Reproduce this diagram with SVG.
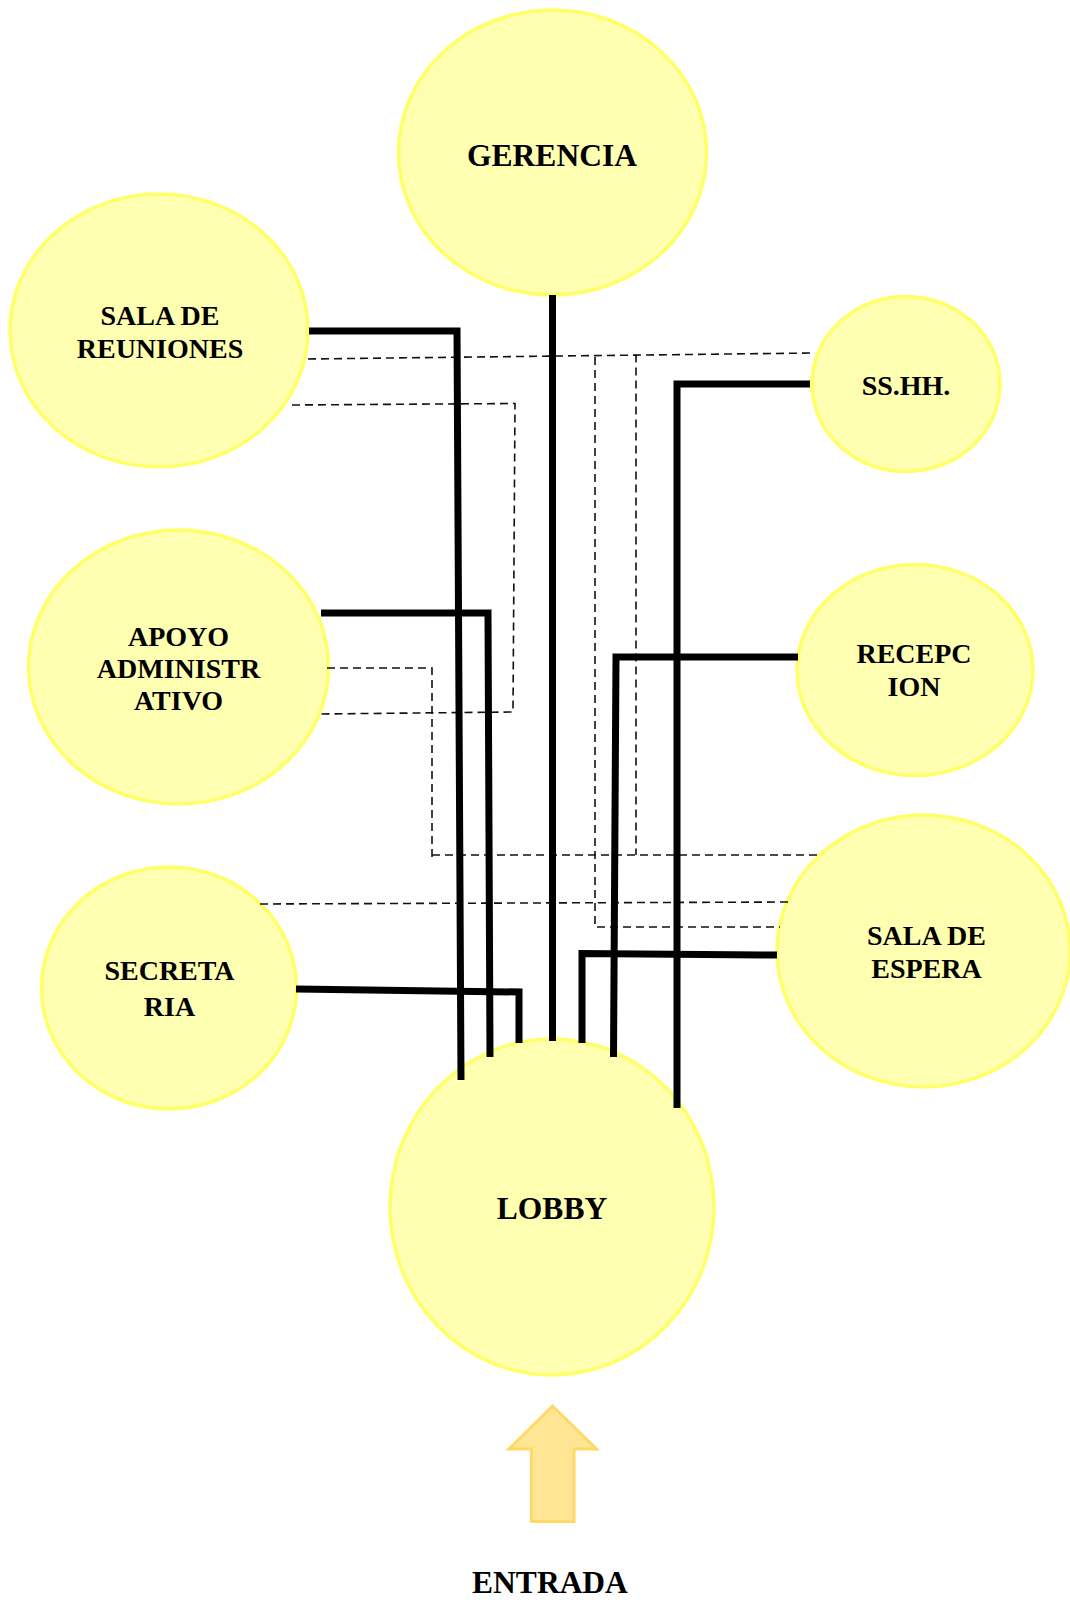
<svg xmlns="http://www.w3.org/2000/svg" width="1070" height="1600" viewBox="0 0 1070 1600">
<style>
.node{fill:#FFFFB2;stroke:#FFFF66;stroke-width:3.5}
.lbl{font-family:"Liberation Serif","Times New Roman",serif;font-weight:bold;font-size:28px;fill:#000;text-anchor:middle}
.big{font-size:31.5px}
.solid{fill:none;stroke:#000;stroke-width:7;stroke-linejoin:miter;stroke-linecap:butt}
.dash{fill:none;stroke:#111;stroke-width:1.6;stroke-dasharray:8 5}
</style>
<rect x="0" y="0" width="1070" height="1600" fill="#fff"/>
<g id="gerencia"><ellipse class="node" cx="552.5" cy="152.5" rx="154" ry="142.5"/><text class="lbl big" x="552" y="166">GERENCIA</text></g>
<g id="sala-reuniones"><ellipse class="node" cx="159" cy="330.5" rx="149" ry="136.5"/><text class="lbl" x="160" y="325">SALA DE</text><text class="lbl" x="160" y="358">REUNIONES</text></g>
<g id="sshh"><ellipse class="node" cx="906" cy="384" rx="94" ry="87.5"/><text class="lbl" x="906" y="395">SS.HH.</text></g>
<g id="apoyo"><ellipse class="node" cx="178.5" cy="667" rx="150" ry="137"/><text class="lbl" x="178.5" y="645.7">APOYO</text><text class="lbl" x="178.5" y="677.7">ADMINISTR</text><text class="lbl" x="178.5" y="710">ATIVO</text></g>
<g id="recepcion"><ellipse class="node" cx="915" cy="670" rx="118" ry="105.5"/><text class="lbl" x="914" y="663.3">RECEPC</text><text class="lbl" x="914" y="696">ION</text></g>
<g id="sala-espera"><ellipse class="node" cx="923.5" cy="951" rx="146.5" ry="136"/><text class="lbl" x="926.5" y="945">SALA DE</text><text class="lbl" x="926.5" y="977.7">ESPERA</text></g>
<g id="secretaria"><ellipse class="node" cx="169" cy="988" rx="127.5" ry="121"/><text class="lbl" x="169.5" y="980">SECRETA</text><text class="lbl" x="169.5" y="1016">RIA</text></g>
<g id="lobby"><ellipse class="node" cx="552" cy="1207" rx="162" ry="168"/><text class="lbl big" x="552" y="1219.3">LOBBY</text></g>
<g id="entrada"><polygon points="552.5,1406 596.5,1449 574,1449 574,1521.5 531.5,1521.5 531.5,1449 509,1449" fill="#FFE594" stroke="#FFD966" stroke-width="3"/><text class="lbl big" x="550" y="1592.7">ENTRADA</text></g>
<g id="connectors">
<path class="dash" d="M308,359 L813,353"/>
<path class="dash" d="M595,357 L595,927 L780,927"/>
<path class="dash" d="M636,354.5 L636,855"/>
<path class="dash" d="M327,668 L432,668 L432,861 M432,855 L821,855"/>
<path class="dash" d="M292,405 L515,403.5 L513,712 L318,714"/>
<path class="dash" d="M260,904 L788,902"/>
<path class="solid" d="M552.5,295 L552.5,1041"/>
<path class="solid" d="M309,331 L457,331 L461,1080"/>
<path class="solid" d="M321,613 L488,613 L490,1057"/>
<path class="solid" d="M810,384 L677,384 L677,1108"/>
<path class="solid" d="M798,657 L616,657 L613.5,1057"/>
<path class="solid" d="M777,955 L582,953.5 L582,1043"/>
<path class="solid" d="M296,989 L519,992 L519,1043"/>
</g>
</svg>
